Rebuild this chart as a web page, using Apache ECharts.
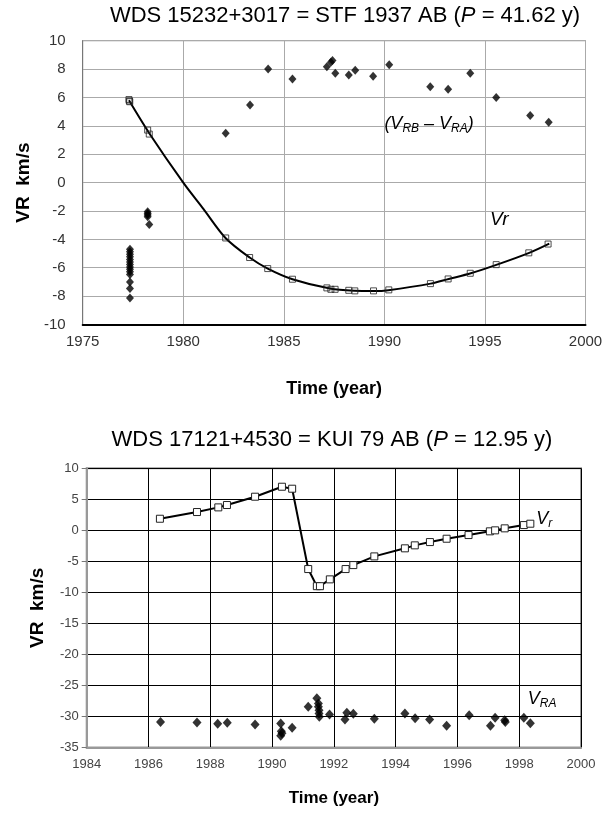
<!DOCTYPE html>
<html><head><meta charset="utf-8">
<script src="https://cdn.jsdelivr.net/npm/echarts@6/dist/echarts.min.js"></script>
<style>html,body{margin:0;padding:0;background:#fff}#c{width:607px;height:814px}</style>
</head><body><div id="c"></div>
<script>
// ---------- Chart 1: WDS 15232+3017 ----------
const c1XTicks = [1975, 1980, 1985, 1990, 1995, 2000];
const c1YTicks = [-10, -8, -6, -4, -2, 0, 2, 4, 6, 8, 10];
// Vr observed (open squares)
const vr1Years  = [1977.30, 1977.32, 1977.34, 1978.23, 1978.31, 1982.11, 1983.30, 1984.20, 1985.43, 1987.14, 1987.34, 1987.55, 1988.23, 1988.53, 1989.46, 1990.22, 1992.29, 1993.17, 1994.27, 1995.56, 1997.18, 1998.14];
const vr1Values = [5.85, 5.75, 5.70, 3.70, 3.42, -3.90, -5.28, -6.06, -6.81, -7.42, -7.52, -7.52, -7.59, -7.63, -7.63, -7.56, -7.12, -6.79, -6.39, -5.78, -4.95, -4.33];
// fitted curve
const fit1Years  = [1977.3, 1978.3, 1980.0, 1981.0, 1982.1, 1983.3, 1984.2, 1985.43, 1987.3, 1988.5, 1989.5, 1990.2, 1992.3, 1993.2, 1994.3, 1995.6, 1997.2, 1998.2];
const fit1Values = [5.8, 3.5, 0.0, -1.85, -3.9, -5.28, -6.06, -6.81, -7.47, -7.62, -7.64, -7.58, -7.12, -6.79, -6.39, -5.78, -4.95, -4.3];
// (VRB - VRA) (filled diamonds)
const d1Years  = [1977.35, 1977.35, 1977.35, 1977.35, 1977.35, 1977.35, 1977.35, 1977.35, 1977.35, 1977.35, 1977.35, 1977.35, 1977.35, 1977.35, 1978.23, 1978.23, 1978.23, 1978.23, 1978.31, 1982.11, 1983.32, 1984.22, 1985.43, 1987.14, 1987.34, 1987.42, 1987.56, 1988.23, 1988.55, 1989.44, 1990.24, 1992.28, 1993.17, 1994.27, 1995.56, 1997.25, 1998.17];
const d1Values = [-4.69, -4.88, -5.05, -5.23, -5.42, -5.59, -5.77, -5.94, -6.10, -6.29, -6.48, -7.00, -7.47, -8.13, -2.06, -2.18, -2.29, -2.41, -2.95, 3.47, 5.47, 8.00, 7.30, 8.17, 8.48, 8.60, 7.70, 7.59, 7.92, 7.49, 8.31, 6.76, 6.58, 7.70, 5.99, 4.72, 4.25];

// ---------- Chart 2: WDS 17121+4530 ----------
const c2XTicks = [1984, 1986, 1988, 1990, 1992, 1994, 1996, 1998, 2000];
const c2YTicks = [-35, -30, -25, -20, -15, -10, -5, 0, 5, 10];
const vr2Years  = [1986.37, 1987.57, 1988.26, 1988.54, 1989.45, 1990.32, 1990.65, 1991.17, 1991.45, 1991.55, 1991.87, 1992.38, 1992.63, 1993.31, 1994.30, 1994.62, 1995.11, 1995.65, 1996.36, 1997.05, 1997.22, 1997.53, 1998.15, 1998.36];
const vr2Values = [1.87, 2.95, 3.70, 4.08, 5.42, 7.03, 6.71, -6.24, -9.00, -9.00, -7.90, -6.24, -5.60, -4.20, -2.90, -2.42, -1.89, -1.35, -0.76, -0.16, 0.00, 0.32, 0.85, 1.07];
const vra2Years  = [1986.39, 1987.57, 1988.24, 1988.55, 1989.45, 1990.28, 1990.30, 1990.32, 1990.28, 1990.65, 1991.17, 1991.45, 1991.50, 1991.50, 1991.52, 1991.52, 1991.53, 1991.86, 1992.36, 1992.42, 1992.63, 1993.31, 1994.30, 1994.63, 1995.10, 1995.65, 1996.38, 1997.07, 1997.22, 1997.53, 1997.55, 1998.15, 1998.36];
const vra2Values = [-30.87, -30.97, -31.19, -31.03, -31.30, -31.13, -32.37, -32.70, -33.10, -31.80, -28.45, -27.05, -27.90, -28.45, -29.00, -29.50, -30.05, -29.70, -30.50, -29.40, -29.56, -30.38, -29.50, -30.30, -30.50, -31.50, -29.80, -31.50, -30.20, -30.60, -30.90, -30.20, -31.10];

const zip = (a, b) => a.map((x, i) => [x, b[i]]);
const FONT = '"Liberation Sans", Arial, sans-serif';
const plain = v => String(v);

const chart = echarts.init(document.getElementById('c'), null, {renderer: 'canvas'});

const option = {
  animation: false,
  backgroundColor: '#fff',
  grid: [
    {left: 82.7, right: 21.5, top: 40.7, bottom: 489.5, show: true, borderColor: '#777', borderWidth: 1, containLabel: false},
    {left: 86.7, right: 26, top: 468.3, bottom: 66.5, show: true, borderColor: '#999', borderWidth: 2, containLabel: false}
  ],
  xAxis: [
    {gridIndex: 0, type: 'value', min: c1XTicks[0], max: c1XTicks[c1XTicks.length - 1], interval: 5,
     axisLine: {show: true, onZero: false, lineStyle: {color: '#000', width: 2}}, axisTick: {show: false},
     axisLabel: {color: '#333', fontSize: 15, fontFamily: FONT, margin: 10, formatter: plain},
     splitLine: {show: true, lineStyle: {color: '#aaa', width: 1}},
     name: 'Time (year)', nameLocation: 'middle', nameGap: 56,
     nameTextStyle: {fontSize: 18, fontWeight: 'bold', color: '#000', fontFamily: FONT}},
    {gridIndex: 1, type: 'value', min: c2XTicks[0], max: c2XTicks[c2XTicks.length - 1], interval: 2,
     axisLine: {show: true, onZero: false, lineStyle: {color: '#999', width: 2}}, axisTick: {show: false},
     axisLabel: {color: '#444', fontSize: 13, fontFamily: FONT, margin: 10, formatter: plain},
     splitLine: {show: true, lineStyle: {color: '#000', width: 1}},
     name: 'Time (year)', nameLocation: 'middle', nameGap: 42,
     nameTextStyle: {fontSize: 17, fontWeight: 'bold', color: '#000', fontFamily: FONT}}
  ],
  yAxis: [
    {gridIndex: 0, type: 'value', min: c1YTicks[0], max: c1YTicks[c1YTicks.length - 1], interval: 2,
     axisLine: {show: true, onZero: false, lineStyle: {color: '#777', width: 1}}, axisTick: {show: false},
     axisLabel: {color: '#333', fontSize: 15, fontFamily: FONT, margin: 17, formatter: plain},
     splitLine: {show: true, lineStyle: {color: '#aaa', width: 1}},
     name: 'VR  km/s', nameLocation: 'middle', nameGap: 48, nameRotate: 90,
     nameTextStyle: {fontSize: 19, fontWeight: 'bold', color: '#000', fontFamily: FONT}},
    {gridIndex: 1, type: 'value', min: c2YTicks[0], max: c2YTicks[c2YTicks.length - 1], interval: 5,
     axisLine: {show: true, onZero: false, lineStyle: {color: '#999', width: 2}},
     axisTick: {show: true, inside: false, length: 5, lineStyle: {color: '#777'}},
     axisLabel: {color: '#444', fontSize: 13, fontFamily: FONT, margin: 8, formatter: plain},
     splitLine: {show: true, lineStyle: {color: '#000', width: 1}},
     name: 'VR  km/s', nameLocation: 'middle', nameGap: 39, nameRotate: 90,
     nameTextStyle: {fontSize: 19, fontWeight: 'bold', color: '#000', fontFamily: FONT}}
  ],
  series: [
    {name: 'fit1', type: 'line', xAxisIndex: 0, yAxisIndex: 0, data: zip(fit1Years, fit1Values),
     smooth: 0.3, showSymbol: false, symbol: 'none', lineStyle: {color: '#000', width: 2}, z: 2},
    {name: 'Vr1', type: 'scatter', xAxisIndex: 0, yAxisIndex: 0, data: zip(vr1Years, vr1Values),
     symbol: 'rect', symbolSize: 6, itemStyle: {color: 'rgba(255,255,255,0)', borderColor: '#222', borderWidth: 1}, z: 3},
    {name: 'D1', type: 'scatter', xAxisIndex: 0, yAxisIndex: 0, data: zip(d1Years, d1Values),
     symbol: 'diamond', symbolSize: [8, 9], itemStyle: {color: '#000'}, z: 4},
    {name: 'Vr2', type: 'line', xAxisIndex: 1, yAxisIndex: 1, data: zip(vr2Years, vr2Values),
     smooth: false, symbol: 'rect', symbolSize: 7, showSymbol: true,
     lineStyle: {color: '#000', width: 2}, itemStyle: {color: '#fff', borderColor: '#222', borderWidth: 1}, z: 3},
    {name: 'VRA2', type: 'scatter', xAxisIndex: 1, yAxisIndex: 1, data: zip(vra2Years, vra2Values),
     symbol: 'diamond', symbolSize: [9, 10], itemStyle: {color: '#000'}, z: 4}
  ]
};
chart.setOption(option);

// annotations placed through the axes' own scales
const p = (g, v) => chart.convertToPixel({gridIndex: g}, v);
const a1 = p(0, [1990.0, 4.05]);
const a2 = p(0, [1995.25, -2.6]);
const a3 = p(1, [1998.55, 1.65]);
const a4 = p(1, [1998.28, -27.3]);
const sub = {
  t: {fontSize: 18, fontStyle: 'italic', fontFamily: FONT, color: '#000', verticalAlign: 'top', lineHeight: 20},
  s: {fontSize: 12, fontStyle: 'italic', fontFamily: FONT, color: '#000', verticalAlign: 'bottom', lineHeight: 12}
};
chart.setOption({
  graphic: [
    {type: 'text', x: 345, y: 16, style: {text: 'WDS 15232+3017 = STF 1937 AB ({i|P} = 41.62 y)', font: '22px ' + FONT, fill: '#000', align: 'center', verticalAlign: 'middle',
      rich: {i: {fontStyle: 'italic', fontSize: 22, fontFamily: FONT}}}},
    {type: 'text', x: 332, y: 440, style: {text: 'WDS 17121+4530 = KUI 79 AB ({i|P} = 12.95 y)', font: '22px ' + FONT, fill: '#000', align: 'center', verticalAlign: 'middle',
      rich: {i: {fontStyle: 'italic', fontSize: 22, fontFamily: FONT}}}},
    {type: 'text', x: a1[0], y: a1[1], style: {text: '{t|(V}{s|RB}{t| – V}{s|RA}{t|)}', rich: sub, align: 'left', verticalAlign: 'middle', lineHeight: 24}},
    {type: 'text', x: a2[0], y: a2[1], style: {text: 'Vr', font: 'italic 19px ' + FONT, fill: '#000', align: 'left', verticalAlign: 'middle'}},
    {type: 'text', x: a3[0], y: a3[1], style: {text: '{t|V}{s|r}', rich: sub, align: 'left', verticalAlign: 'middle', lineHeight: 24}},
    {type: 'text', x: a4[0], y: a4[1], style: {text: '{t|V}{s|RA}', rich: sub, align: 'left', verticalAlign: 'middle', lineHeight: 24}}
  ]
});
</script>
</body></html>
